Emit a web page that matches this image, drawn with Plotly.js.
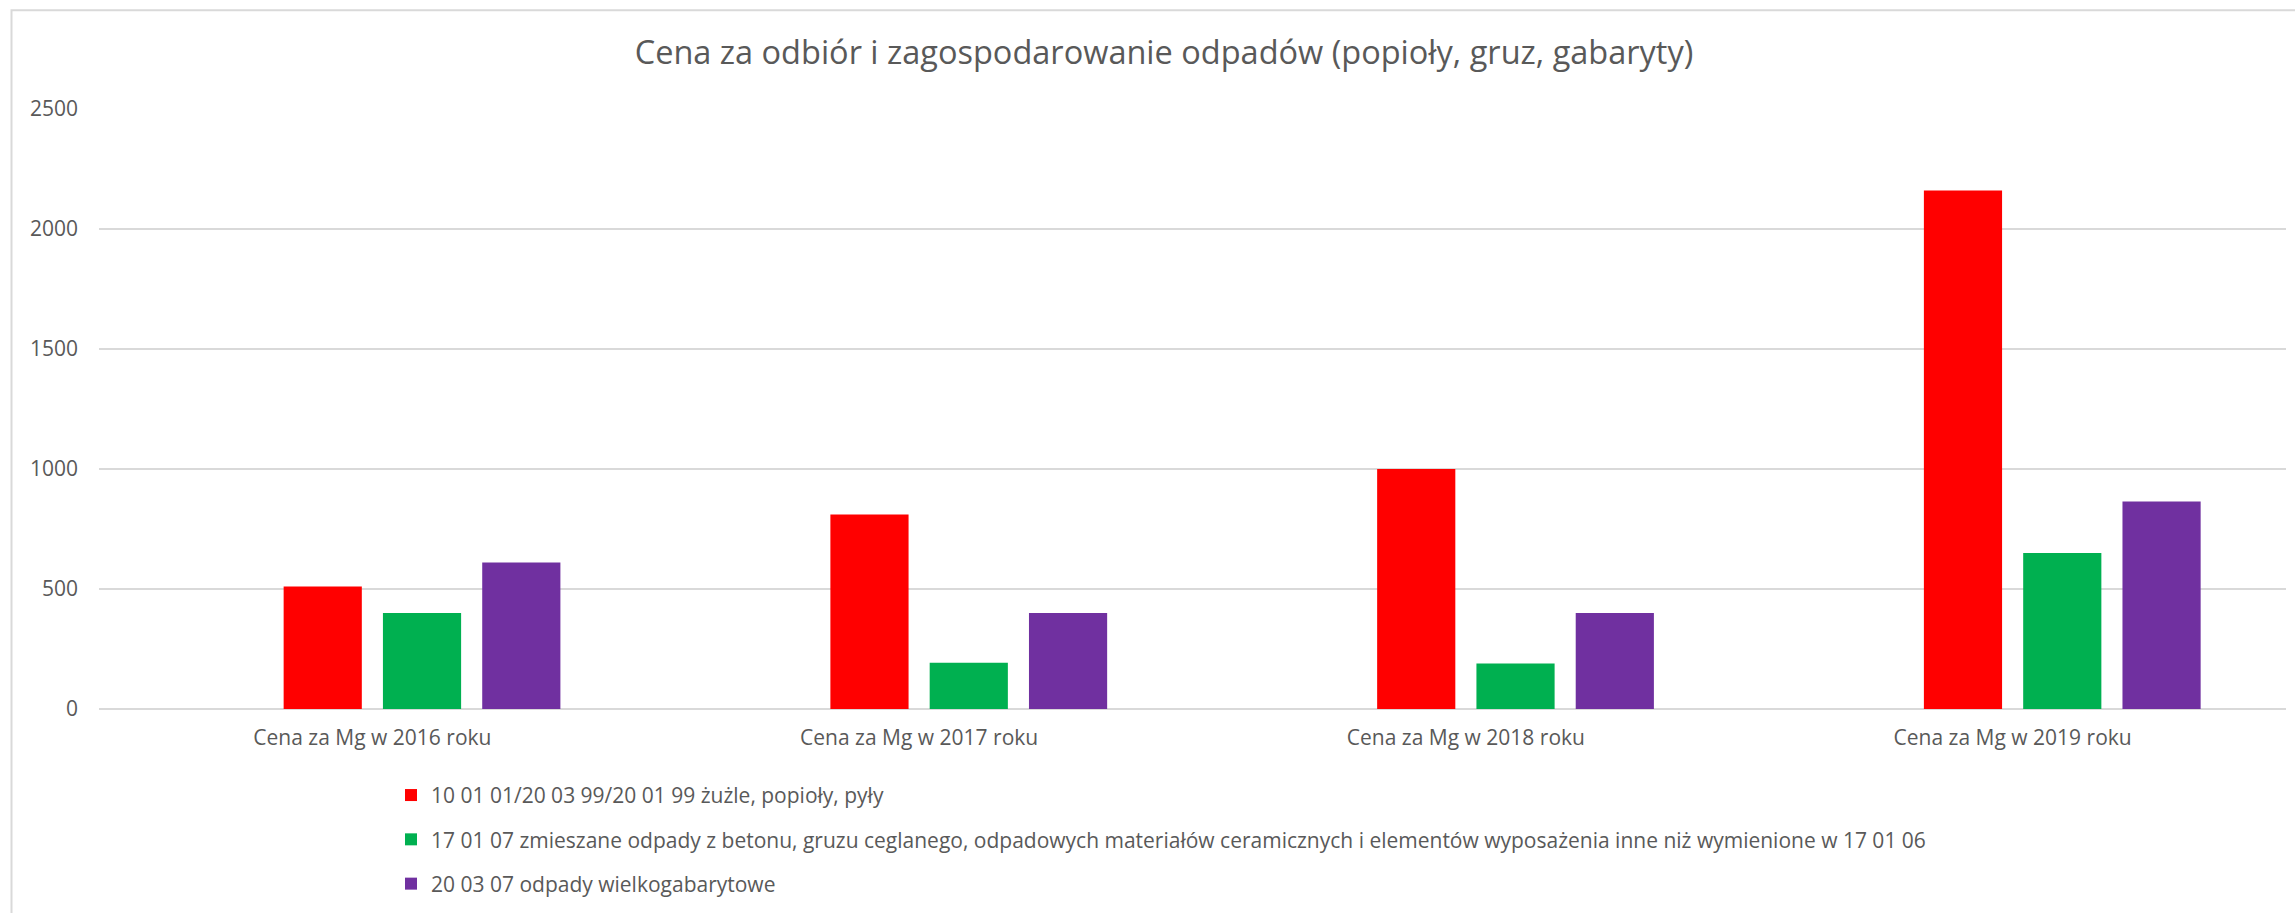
<!DOCTYPE html>
<html>
<head>
<meta charset="utf-8">
<script src="https://cdn.plot.ly/plotly-3.0.1.min.js"></script>
<style>
html, body { margin: 0; padding: 0; background: #ffffff; }
#chart { width: 2295px; height: 913px; }
</style>
</head>
<body>
<div id="chart"></div>
<script>
// ---- data ----
const categories = [
  "Cena za Mg w 2016 roku",
  "Cena za Mg w 2017 roku",
  "Cena za Mg w 2018 roku",
  "Cena za Mg w 2019 roku"
];
const seriesNames = [
  "10 01 01/20 03 99/20 01 99 żużle, popioły, pyły",
  "17 01 07 zmieszane odpady z betonu, gruzu ceglanego, odpadowych materiałów ceramicznych i elementów wyposażenia inne niż wymienione w 17 01 06",
  "20 03 07 odpady wielkogabarytowe"
];
const popioly = [510, 810, 1000, 2160];
const gruz = [400, 193, 190, 650];
const gabaryty = [610, 400, 400, 865];
const yTicks = [0, 500, 1000, 1500, 2000, 2500];

// ---- styles ----
const colors = ["#FF0000", "#00B050", "#7030A0"];
const barWidth = 0.143;
const offsets = [-0.1623, 0.0193, 0.2009];
const textColor = "#595959";
const font = "Open Sans, Noto Sans, sans-serif";

const seriesValues = [popioly, gruz, gabaryty];
const traces = seriesValues.map((vals, i) => ({
  type: "bar",
  x: categories,
  y: vals,
  name: seriesNames[i],
  legendgroup: "g" + i,
  width: barWidth,
  offset: offsets[i],
  marker: { color: colors[i], line: { width: 0 } },
  hoverinfo: "y+name"
}));

const layout = {
  width: 2295,
  height: 913,
  paper_bgcolor: "#ffffff",
  plot_bgcolor: "#ffffff",
  margin: { l: 99, r: 9, t: 109, b: 204, pad: 0 },
  barmode: "overlay",
  font: { family: font, size: 21, color: textColor },
  title: {
    text: "Cena za odbiór i zagospodarowanie odpadów (popioły, gruz, gabaryty)",
    font: { family: font, size: 32.5, color: textColor },
    x: 1164 / 2295,
    xref: "container",
    xanchor: "center",
    y: 1 - 53 / 913,
    yref: "container",
    yanchor: "middle"
  },
  xaxis: {
    type: "category",
    showgrid: false,
    showline: false,
    zeroline: false,
    ticks: "",
    ticklabelstandoff: 14,
    tickfont: { family: font, size: 21, color: textColor },
    fixedrange: true
  },
  yaxis: {
    range: [0, 2500],
    tickvals: yTicks,
    ticktext: yTicks.map(String),
    showgrid: true,
    gridcolor: "#D9D9D9",
    gridwidth: 2,
    zeroline: true,
    zerolinecolor: "#D9D9D9",
    zerolinewidth: 2,
    showline: false,
    ticks: "",
    ticklabelstandoff: 20,
    tickfont: { family: font, size: 21, color: textColor },
    fixedrange: true
  },
  showlegend: true,
  legend: {
    orientation: "v",
    x: (391 - 99) / 2187,
    xanchor: "left",
    y: (709 - 775) / 601,
    yanchor: "top",
    traceorder: "grouped",
    tracegroupgap: 14,
    itemwidth: 30,
    bgcolor: "rgba(0,0,0,0)",
    font: { family: font, size: 21, color: textColor }
  },
  shapes: [{
    type: "rect",
    xref: "paper", yref: "paper",
    x0: (11.5 - 99) / 2187, x1: (2320 - 99) / 2187,
    y0: (709 - 940) / 601, y1: (709 - 9) / 601,
    line: { color: "#D9D9D9", width: 2 },
    fillcolor: "rgba(0,0,0,0)",
    layer: "below"
  }]
};

Plotly.newPlot("chart", traces, layout, { displayModeBar: false, staticPlot: true });
</script>
</body>
</html>
